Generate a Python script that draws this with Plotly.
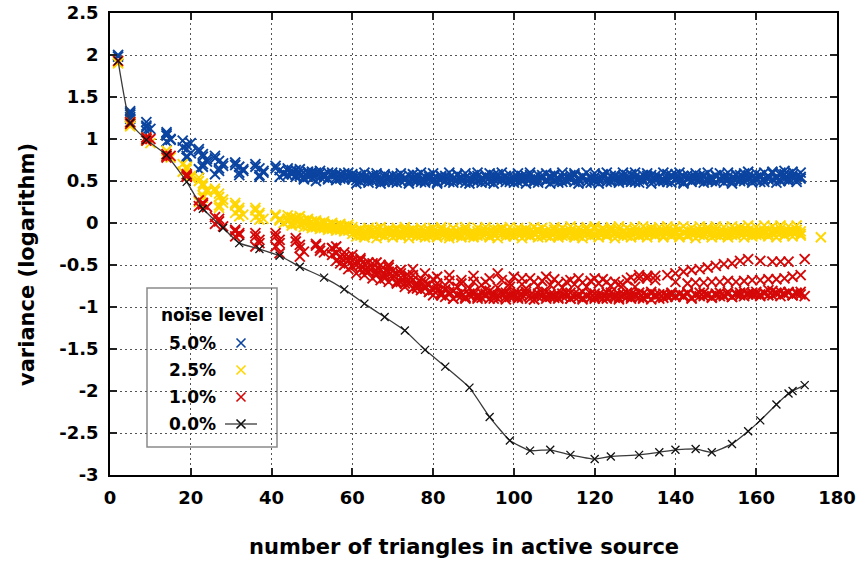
import plotly.graph_objects as go

# ---------------- data ----------------
x_tick_vals = [0, 20, 40, 60, 80, 100, 120, 140, 160, 180]
x_tick_text = ["0", "20", "40", "60", "80", "100", "120", "140", "160", "180"]
y_tick_vals = [2.5, 2, 1.5, 1, 0.5, 0, -0.5, -1, -1.5, -2, -2.5, -3]
y_tick_text = ["2.5", "2", "1.5", "1", "0.5", "0", "-0.5", "-1", "-1.5", "-2", "-2.5", "-3"]

# 5.0% noise (blue)
blue_early_x = [2, 2, 5, 5, 5, 5, 9, 9, 10, 9, 14, 14, 15, 14, 18, 19, 19, 20, 19,
                22, 23, 24, 23, 22, 26, 27, 28, 27, 26, 31, 32, 33, 32, 36, 37, 38, 37,
                41, 42, 43, 42,
                5, 9, 14, 15, 18, 20, 19, 22, 23, 24, 23, 26, 28, 27, 31, 33, 32, 36, 38, 37, 41, 43]
blue_early_y = [2.0, 1.98, 1.33, 1.29, 1.26, 1.24, 1.2, 1.16, 1.12, 1.1, 1.08, 1.04, 1.0, 0.97,
                0.98, 0.93, 0.88, 0.83, 0.78, 0.88, 0.82, 0.76, 0.7, 0.64, 0.8, 0.74, 0.68, 0.62,
                0.58, 0.72, 0.67, 0.62, 0.57, 0.7, 0.65, 0.6, 0.55, 0.68, 0.63, 0.58, 0.55,
                1.31, 1.14, 1.06, 0.99, 0.9, 0.95, 0.8, 0.85, 0.79, 0.73, 0.67, 0.77, 0.71, 0.65,
                0.69, 0.64, 0.6, 0.67, 0.62, 0.57, 0.65, 0.6]
blue_run_start = 44
blue_run_a = [0.62, 0.58, 0.63, 0.56, 0.6, 0.55, 0.61, 0.57, 0.59, 0.54, 0.6, 0.56, 0.58, 0.53, 0.59, 0.55,
              0.55, 0.51, 0.57, 0.52, 0.54, 0.5, 0.56, 0.53, 0.49, 0.55,
              0.52, 0.56, 0.5, 0.54, 0.57, 0.51, 0.53, 0.49, 0.55, 0.52,
              0.5, 0.54, 0.52, 0.56, 0.49, 0.53, 0.51, 0.55, 0.48, 0.52,
              0.54, 0.5, 0.53, 0.57, 0.49, 0.52, 0.55, 0.51, 0.53, 0.49,
              0.52, 0.55, 0.5, 0.53, 0.57, 0.51, 0.48, 0.54, 0.52, 0.56,
              0.5, 0.53, 0.49, 0.55, 0.52, 0.57, 0.51, 0.54, 0.48, 0.53,
              0.55, 0.51, 0.53, 0.49, 0.56, 0.52, 0.54, 0.5, 0.57, 0.52,
              0.49, 0.54, 0.52, 0.56, 0.51, 0.53, 0.55, 0.5, 0.52, 0.57,
              0.51, 0.54, 0.49, 0.53, 0.56, 0.52, 0.5, 0.55, 0.52, 0.54,
              0.49, 0.53, 0.56, 0.51, 0.54, 0.52, 0.57, 0.5, 0.53, 0.55,
              0.51, 0.54, 0.49, 0.56, 0.52, 0.55, 0.5, 0.58, 0.53, 0.57,
              0.52, 0.55]
blue_run_b = [0.57, 0.63, 0.55, 0.6, 0.54, 0.59, 0.53, 0.6, 0.55, 0.58, 0.52, 0.57, 0.54, 0.58, 0.52, 0.56,
              0.52, 0.56, 0.49, 0.55, 0.51, 0.57, 0.52, 0.5, 0.55, 0.53,
              0.49, 0.53, 0.55, 0.51, 0.5, 0.54, 0.57, 0.52, 0.5, 0.55,
              0.53, 0.49, 0.56, 0.51, 0.54, 0.52, 0.57, 0.5, 0.54, 0.53,
              0.5, 0.56, 0.52, 0.49, 0.54, 0.57, 0.51, 0.53, 0.56, 0.52,
              0.55, 0.49, 0.53, 0.56, 0.52, 0.54, 0.51, 0.57, 0.5, 0.53,
              0.56, 0.52, 0.55, 0.5, 0.54, 0.49, 0.53, 0.56, 0.52, 0.55,
              0.5, 0.54, 0.57, 0.52, 0.5, 0.55, 0.51, 0.56, 0.53, 0.49,
              0.55, 0.52, 0.5, 0.53, 0.57, 0.51, 0.54, 0.52, 0.49, 0.55,
              0.53, 0.5, 0.56, 0.52, 0.51, 0.55, 0.53, 0.57, 0.5, 0.52,
              0.56, 0.51, 0.53, 0.55, 0.5, 0.57, 0.52, 0.54, 0.56, 0.51,
              0.54, 0.57, 0.52, 0.55, 0.59, 0.53, 0.57, 0.52, 0.58, 0.54,
              0.56, 0.53]
blue_run_c = [0.65, 0.6, 0.57, 0.64, 0.52, 0.61, 0.58, 0.5, 0.62, 0.56, 0.53, 0.6, 0.51, 0.57, 0.55, 0.6,
              0.58, 0.47, 0.53, 0.6, 0.48, 0.56, 0.59, 0.47, 0.58, 0.5,
              0.57, 0.48, 0.59, 0.53, 0.47, 0.58, 0.5, 0.6, 0.48, 0.57,
              0.59, 0.47, 0.55, 0.5, 0.6, 0.48, 0.58, 0.53, 0.59, 0.47,
              0.57, 0.6, 0.48, 0.55, 0.59, 0.47, 0.58, 0.6, 0.49, 0.57,
              0.48, 0.59, 0.56, 0.47, 0.6, 0.49, 0.57, 0.53, 0.59, 0.47,
              0.58, 0.48, 0.6, 0.51, 0.57, 0.59, 0.47, 0.56, 0.6, 0.48,
              0.59, 0.47, 0.58, 0.6, 0.49, 0.57, 0.48, 0.6, 0.5, 0.58,
              0.6, 0.48, 0.57, 0.59, 0.47, 0.56, 0.49, 0.6, 0.58, 0.48,
              0.58, 0.6, 0.47, 0.57, 0.49, 0.59, 0.56, 0.48, 0.6, 0.5,
              0.57, 0.59, 0.48, 0.6, 0.47, 0.58, 0.5, 0.59, 0.61, 0.48,
              0.59, 0.49, 0.6, 0.52, 0.61, 0.48, 0.6, 0.62, 0.5, 0.61,
              0.49, 0.6]

# 2.5% noise (yellow)
yellow_early_x = [2, 2, 5, 5, 5, 9, 9, 10, 14, 14, 15, 18, 19, 19, 20, 22, 23, 24, 23,
                  26, 27, 28, 27, 31, 32, 31, 32, 36, 37, 36, 37, 41, 42, 43,
                  5, 9, 14, 19, 18, 20, 22, 23, 24, 23, 22, 26, 27, 28, 27, 31, 32, 33, 36, 37, 38, 41, 42]
yellow_early_y = [1.92, 1.9, 1.2, 1.17, 1.15, 1.02, 0.98, 0.95, 0.86, 0.82, 0.78,
                  0.7, 0.64, 0.58, 0.54, 0.54, 0.47, 0.4, 0.33, 0.41, 0.35, 0.28, 0.21,
                  0.24, 0.18, 0.12, 0.08, 0.18, 0.12, 0.07, 0.04, 0.1, 0.05, 0.0,
                  1.19, 0.99, 0.8, 0.67, 0.61, 0.56, 0.5, 0.44, 0.37, 0.3, 0.25, 0.38, 0.31,
                  0.24, 0.18, 0.21, 0.15, 0.1, 0.15, 0.1, 0.05, 0.08, 0.03]
yellow_run_start = 44
yellow_run_a = [0.05, 0.0, 0.06, -0.02, 0.03, -0.04, 0.02, -0.05, 0.0, -0.06, -0.02, -0.07, -0.03, -0.08, -0.04, -0.09,
                -0.08, -0.12, -0.1, -0.14, -0.09, -0.13, -0.07, -0.11, -0.15, -0.1,
                -0.12, -0.08, -0.14, -0.11, -0.09, -0.13, -0.16, -0.1, -0.12, -0.08,
                -0.14, -0.11, -0.13, -0.09, -0.15, -0.12, -0.1, -0.14, -0.08, -0.12,
                -0.11, -0.15, -0.09, -0.13, -0.1, -0.14, -0.12, -0.08, -0.13, -0.11,
                -0.15, -0.1, -0.12, -0.14, -0.09, -0.13, -0.11, -0.16, -0.1, -0.12,
                -0.08, -0.14, -0.11, -0.13, -0.09, -0.12, -0.15, -0.1, -0.13, -0.11,
                -0.07, -0.12, -0.09, -0.14, -0.1, -0.13, -0.08, -0.11, -0.15, -0.09,
                -0.12, -0.1, -0.14, -0.08, -0.13, -0.11, -0.09, -0.15, -0.12, -0.1,
                -0.13, -0.08, -0.11, -0.14, -0.1, -0.12, -0.09, -0.15, -0.11, -0.13,
                -0.08, -0.12, -0.1, -0.14, -0.09, -0.11, -0.13, -0.07, -0.12, -0.1,
                -0.14, -0.09, -0.12, -0.08, -0.13, -0.11, -0.07, -0.1, -0.12, -0.09,
                -0.11, -0.13]
yellow_run_b = [0.02, 0.07, -0.01, 0.04, 0.0, 0.03, -0.03, 0.01, -0.04, -0.01, -0.05, -0.02, -0.06, -0.03, -0.07, -0.05,
                -0.13, -0.09, -0.15, -0.11, -0.13, -0.08, -0.12, -0.14, -0.1, -0.13,
                -0.09, -0.14, -0.11, -0.08, -0.13, -0.1, -0.12, -0.15, -0.09, -0.13,
                -0.1, -0.15, -0.08, -0.12, -0.11, -0.14, -0.13, -0.09, -0.12, -0.15,
                -0.14, -0.1, -0.12, -0.09, -0.15, -0.11, -0.08, -0.13, -0.1, -0.14,
                -0.11, -0.13, -0.09, -0.1, -0.14, -0.11, -0.08, -0.12, -0.14, -0.09,
                -0.13, -0.1, -0.15, -0.09, -0.12, -0.14, -0.1, -0.13, -0.08, -0.12,
                -0.14, -0.1, -0.13, -0.11, -0.08, -0.12, -0.14, -0.1, -0.12, -0.13,
                -0.09, -0.14, -0.11, -0.12, -0.09, -0.14, -0.12, -0.1, -0.08, -0.13,
                -0.1, -0.14, -0.12, -0.09, -0.13, -0.1, -0.14, -0.11, -0.08, -0.12,
                -0.14, -0.1, -0.13, -0.11, -0.14, -0.08, -0.1, -0.12, -0.09, -0.13,
                -0.1, -0.12, -0.09, -0.13, -0.1, -0.08, -0.12, -0.14, -0.09, -0.11,
                -0.08, -0.1]
yellow_run_c = [0.09, -0.03, 0.04, 0.08, -0.05, 0.05, -0.06, 0.03, -0.07, 0.02, -0.08, 0.0, -0.09, -0.01, -0.1, -0.02,
                -0.05, -0.16, -0.07, -0.17, -0.06, -0.15, -0.18, -0.05, -0.16, -0.07,
                -0.17, -0.06, -0.16, -0.05, -0.18, -0.07, -0.15, -0.06, -0.17, -0.16,
                -0.06, -0.17, -0.05, -0.16, -0.18, -0.06, -0.15, -0.17, -0.05, -0.16,
                -0.17, -0.06, -0.16, -0.05, -0.17, -0.07, -0.18, -0.06, -0.16, -0.05,
                -0.16, -0.06, -0.18, -0.07, -0.16, -0.05, -0.17, -0.06, -0.15, -0.17,
                -0.05, -0.17, -0.06, -0.16, -0.04, -0.17, -0.06, -0.18, -0.05, -0.16,
                -0.04, -0.17, -0.06, -0.16, -0.05, -0.18, -0.04, -0.16, -0.06, -0.17,
                -0.05, -0.16, -0.04, -0.17, -0.06, -0.15, -0.05, -0.17, -0.04, -0.16,
                -0.05, -0.17, -0.04, -0.16, -0.06, -0.18, -0.04, -0.15, -0.05, -0.17,
                -0.04, -0.16, -0.05, -0.17, -0.04, -0.15, -0.06, -0.17, -0.03, -0.16,
                -0.05, -0.15, -0.03, -0.16, -0.04, -0.17, -0.03, -0.15, -0.04, -0.16,
                -0.03, -0.15]
yellow_extra_x = [176]
yellow_extra_y = [-0.17]

# 1.0% noise (red)
red_early_x = [2, 5, 5, 9, 9, 10, 14, 14, 15, 19, 19, 22, 23, 24, 26, 27, 28, 31, 32, 31,
               36, 37, 36, 41, 42, 41, 42, 46, 47, 48, 47, 51, 52, 53,
               9, 14, 19, 23, 22, 27, 26, 31, 32, 36, 37, 41, 42, 46, 47, 51, 52]
red_early_y = [1.93, 1.18, 1.2, 1.02, 0.98, 1.0, 0.82, 0.78, 0.8, 0.58, 0.55, 0.27, 0.22, 0.19,
               0.07, 0.02, -0.04, -0.08, -0.12, -0.16, -0.12, -0.2, -0.28, -0.12, -0.2, -0.28,
               -0.36, -0.18, -0.26, -0.34, -0.4, -0.25, -0.3, -0.35,
               1.0, 0.8, 0.56, 0.24, 0.2, 0.05, -0.01, -0.1, -0.14, -0.16, -0.24, -0.16, -0.24,
               -0.22, -0.3, -0.27, -0.33]
red_run_start = 55
red_run_a = [-0.38, -0.45, -0.41, -0.5, -0.44, -0.52, -0.46, -0.55, -0.49, -0.58,
             -0.53, -0.6, -0.56, -0.63, -0.58, -0.66, -0.6, -0.7, -0.64, -0.72,
             -0.68, -0.75, -0.7, -0.78, -0.73, -0.8, -0.76, -0.83, -0.79, -0.85,
             -0.81, -0.86, -0.83, -0.88, -0.84,
             -0.85, -0.88, -0.83, -0.87, -0.9, -0.84, -0.86, -0.82, -0.88, -0.85,
             -0.87, -0.83, -0.89, -0.85, -0.86, -0.91, -0.84, -0.87, -0.82, -0.88,
             -0.86, -0.9, -0.84, -0.87, -0.83, -0.88, -0.85, -0.89, -0.86, -0.84,
             -0.88, -0.85, -0.9, -0.83, -0.87, -0.86, -0.89, -0.84, -0.88, -0.85,
             -0.87, -0.83, -0.9, -0.86, -0.84, -0.88, -0.85, -0.89, -0.86, -0.83,
             -0.87, -0.85, -0.88, -0.84, -0.9, -0.86, -0.83, -0.87, -0.85, -0.89,
             -0.84, -0.87, -0.86, -0.82, -0.88, -0.85, -0.83, -0.87, -0.84, -0.86,
             -0.82, -0.85, -0.83, -0.86, -0.81, -0.84, -0.82, -0.85, -0.83, -0.86,
             -0.84, -0.82, -0.87]
red_run_b = [-0.3, -0.35, -0.48, -0.4, -0.55, -0.45, -0.6, -0.5, -0.62, -0.54,
             -0.66, -0.57, -0.68, -0.6, -0.7, -0.62, -0.72, -0.65, -0.76, -0.68,
             -0.78, -0.72, -0.8, -0.75, -0.82, -0.86, -0.8, -0.84, -0.88, -0.82,
             -0.9, -0.85, -0.87, -0.9, -0.86,
             -0.82, -0.86, -0.89, -0.84, -0.81, -0.87, -0.9, -0.85, -0.83, -0.88,
             -0.84, -0.88, -0.85, -0.82, -0.9, -0.86, -0.88, -0.83, -0.87, -0.85,
             -0.89, -0.85, -0.87, -0.83, -0.9, -0.84, -0.88, -0.82, -0.87, -0.89,
             -0.84, -0.88, -0.86, -0.9, -0.83, -0.89, -0.85, -0.87, -0.83, -0.88,
             -0.85, -0.89, -0.84, -0.87, -0.82, -0.85, -0.9, -0.84, -0.88, -0.86,
             -0.88, -0.84, -0.86, -0.83, -0.89, -0.85, -0.87, -0.83, -0.86, -0.88,
             -0.86, -0.83, -0.87, -0.85, -0.88, -0.84, -0.86, -0.82, -0.85, -0.83,
             -0.85, -0.87, -0.84, -0.8, -0.86, -0.83, -0.87, -0.84, -0.82, -0.86,
             -0.83, -0.85]
red_run_c = [-0.3, -0.28, -0.4, -0.35, -0.45, -0.38, -0.5, -0.44, -0.56, -0.47,
             -0.48, -0.62, -0.5, -0.66, -0.53, -0.57, -0.7, -0.6, -0.72, -0.63,
             -0.62, -0.78, -0.66, -0.7, -0.82, -0.67, -0.72, -0.86, -0.74, -0.69,
             -0.9, -0.76, -0.72, -0.89, -0.78, -0.7, -0.9, -0.74, -0.8, -0.66,
             -0.9, -0.77, -0.68, -0.91, -0.76, -0.64, -0.9, -0.73, -0.78, -0.66,
             -0.91, -0.75, -0.69, -0.9, -0.74, -0.67, -0.89, -0.77, -0.7, -0.9,
             -0.73, -0.66, -0.91, -0.76, -0.69, -0.9, -0.72, -0.67, -0.89, -0.75,
             -0.7, -0.91, -0.74, -0.68, -0.9, -0.76, -0.66, -0.89, -0.63, -0.91, -0.68]
red_upper_x = [56, 59, 62, 66, 69, 72, 75, 78, 81, 84, 87, 90, 93, 96, 99, 102, 105, 108,
               111, 114, 117, 120, 123, 126, 129, 131, 133, 135,
               138, 140, 142, 144, 146, 148, 150, 152, 154, 156, 158, 161, 164, 166, 168, 172,
               140, 143, 145, 147, 149, 151, 153, 155, 157, 159, 161, 163, 165, 167, 169, 171]
red_upper_y = [-0.36, -0.4, -0.42, -0.47, -0.5, -0.56, -0.55, -0.6, -0.64, -0.62, -0.68, -0.63,
               -0.7, -0.6, -0.72, -0.66, -0.7, -0.64, -0.72, -0.68, -0.71, -0.66, -0.7, -0.73,
               -0.65, -0.62, -0.66, -0.63,
               -0.62, -0.6, -0.58, -0.56, -0.55, -0.53, -0.51, -0.49, -0.48, -0.45, -0.43,
               -0.45, -0.46, -0.46, -0.46, -0.43,
               -0.7, -0.72, -0.71, -0.71, -0.7, -0.7, -0.69, -0.7, -0.69, -0.68, -0.68, -0.67,
               -0.67, -0.66, -0.64, -0.62]

# 0.0% noise (black line)
black_x = [2, 5, 9, 14, 19, 23, 28, 32, 37, 42, 47, 53, 58, 63, 68, 73, 78, 83, 89, 94,
           99, 104, 109, 114, 120, 124, 131, 136, 140, 145, 149, 154, 158, 161, 165, 168, 169, 172]
black_y = [1.93, 1.19, 0.99, 0.81, 0.49, 0.17, -0.06, -0.24, -0.31, -0.39,
           -0.52, -0.65, -0.79, -0.96, -1.12, -1.28, -1.51, -1.71, -1.96, -2.31,
           -2.59, -2.71, -2.70, -2.76, -2.81, -2.78, -2.76, -2.73, -2.70, -2.69,
           -2.73, -2.63, -2.48, -2.35, -2.16, -2.03, -2.0, -1.93]

x_title = "number of triangles in active source"
y_title = "variance (logarithm)"
legend_title = "noise level"
legend_names = ["5.0%", "2.5%", "1.0%", "0.0%"]

# ---------------- style ----------------
BLUE = "#0b44a0"
YELLOW = "#ffd600"
RED = "#d50808"
BLACK = "#111111"
FONT = "DejaVu Sans"

# plot area targeted at x 110..837, y 13..475 on screen (body margin removed below)
PAGE_OFF = 0
PLOT_L, PLOT_R, PLOT_T, PLOT_B = 110, 837, 13, 475


def run_x(start, values):
    return list(range(start, start + len(values)))


def cloud(xs, ys, color, size=10):
    return go.Scatter(
        x=xs, y=ys, mode="markers", showlegend=False, hoverinfo="skip",
        marker=dict(symbol="x-thin", size=size, color=color,
                    line=dict(color=color, width=1.9)),
    )


fig = go.Figure()

blue_x = (blue_early_x + run_x(blue_run_start, blue_run_a) + run_x(blue_run_start, blue_run_b)
          + run_x(blue_run_start, blue_run_c))
blue_y = blue_early_y + blue_run_a + blue_run_b + blue_run_c
fig.add_trace(cloud(blue_x, blue_y, BLUE))

yellow_x = (yellow_early_x + run_x(yellow_run_start, yellow_run_a)
            + run_x(yellow_run_start, yellow_run_b) + run_x(yellow_run_start, yellow_run_c)
            + yellow_extra_x)
yellow_y = yellow_early_y + yellow_run_a + yellow_run_b + yellow_run_c + yellow_extra_y
fig.add_trace(cloud(yellow_x, yellow_y, YELLOW))

red_x = (red_early_x + run_x(red_run_start, red_run_a) + run_x(red_run_start, red_run_b)
         + run_x(red_run_start, red_run_c) + red_upper_x)
red_y = red_early_y + red_run_a + red_run_b + red_run_c + red_upper_y
fig.add_trace(cloud(red_x, red_y, RED))

fig.add_trace(go.Scatter(
    x=black_x, y=black_y, mode="lines+markers", showlegend=False, hoverinfo="skip",
    line=dict(color="#3a3a3a", width=1.3, shape="spline", smoothing=0.4),
    marker=dict(symbol="x-thin", size=8, color=BLACK, line=dict(color=BLACK, width=1.3)),
))

# ---------------- custom legend (text left, key right) ----------------
def px_x(p):
    return (p - PLOT_L) / float(PLOT_R - PLOT_L)


def px_y(p):
    return (PLOT_B - p) / float(PLOT_B - PLOT_T)


entry_py = [343, 370, 397, 424]
key_px = 241
key_colors = [BLUE, YELLOW, RED, BLACK]

fig.add_shape(type="rect", xref="paper", yref="paper", layer="between",
              x0=px_x(147), x1=px_x(277), y0=px_y(447), y1=px_y(288),
              fillcolor="white", line=dict(color="#8a8a8a", width=1.5))

fig.add_annotation(xref="paper", yref="paper", x=px_x(212), y=px_y(315),
                   text="<b>%s</b>" % legend_title, showarrow=False,
                   xanchor="center", yanchor="middle",
                   font=dict(family=FONT, size=17, color="black"))
for name, py in zip(legend_names, entry_py):
    fig.add_annotation(xref="paper", yref="paper", x=px_x(167), y=px_y(py),
                       text="<b>%s</b>" % name, showarrow=False,
                       xanchor="left", yanchor="middle",
                       font=dict(family=FONT, size=17, color="black"))

fig.add_trace(go.Scatter(
    x=[px_x(225), px_x(257)], y=[px_y(entry_py[3])] * 2, mode="lines",
    xaxis="x2", yaxis="y2", showlegend=False, hoverinfo="skip",
    line=dict(color="#3a3a3a", width=1.3),
))
for col, py in zip(key_colors, entry_py):
    fig.add_trace(go.Scatter(
        x=[px_x(key_px)], y=[px_y(py)], mode="markers",
        xaxis="x2", yaxis="y2", showlegend=False, hoverinfo="skip",
        marker=dict(symbol="x-thin", size=9, color=col, line=dict(color=col, width=1.6)),
    ))

# axis titles
fig.add_annotation(xref="paper", yref="paper", x=px_x(464), y=px_y(547),
                   text="<b>%s</b>" % x_title, showarrow=False,
                   xanchor="center", yanchor="middle",
                   font=dict(family=FONT, size=21, color="black"))
fig.add_annotation(xref="paper", yref="paper", x=px_x(27), y=px_y(265),
                   text="<b>%s</b>" % y_title, showarrow=False, textangle=-90,
                   xanchor="center", yanchor="middle",
                   font=dict(family=FONT, size=21, color="black"))

# ---------------- layout ----------------
axis_common = dict(
    showline=True, linecolor="black", linewidth=1.5, mirror="ticks",
    ticks="inside", ticklen=7, tickwidth=1.5, tickcolor="#222222",
    showgrid=True, gridcolor="#555555", gridwidth=1, griddash="2px,3px",
    zeroline=False, automargin=False, ticklabeloverflow="allow",
    tickfont=dict(family=FONT, size=18, color="black", weight="bold"),
    ticklabelstandoff=6,
)

W, H = 857, 563
m_l = PLOT_L - PAGE_OFF
m_t = PLOT_T - PAGE_OFF
m_r = W - m_l - (PLOT_R - PLOT_L)
m_b = H - m_t - (PLOT_B - PLOT_T)

fig.update_layout(
    width=W, height=H,
    margin=dict(l=m_l, r=m_r, t=m_t, b=m_b),
    paper_bgcolor="white", plot_bgcolor="white",
    font=dict(family=FONT, color="black"),
    showlegend=False,
    xaxis=dict(axis_common, range=[0, 180], tickmode="array",
               tickvals=x_tick_vals, ticktext=x_tick_text),
    yaxis=dict(axis_common, range=[-3, 2.5], tickmode="array",
               tickvals=y_tick_vals, ticktext=y_tick_text),
    xaxis2=dict(overlaying="x", range=[0, 1], visible=False, fixedrange=True),
    yaxis2=dict(overlaying="y", range=[0, 1], visible=False, fixedrange=True),
)

fig.write_html("out.html", config={"displayModeBar": False},
               post_script="document.body.style.margin='0px';")
